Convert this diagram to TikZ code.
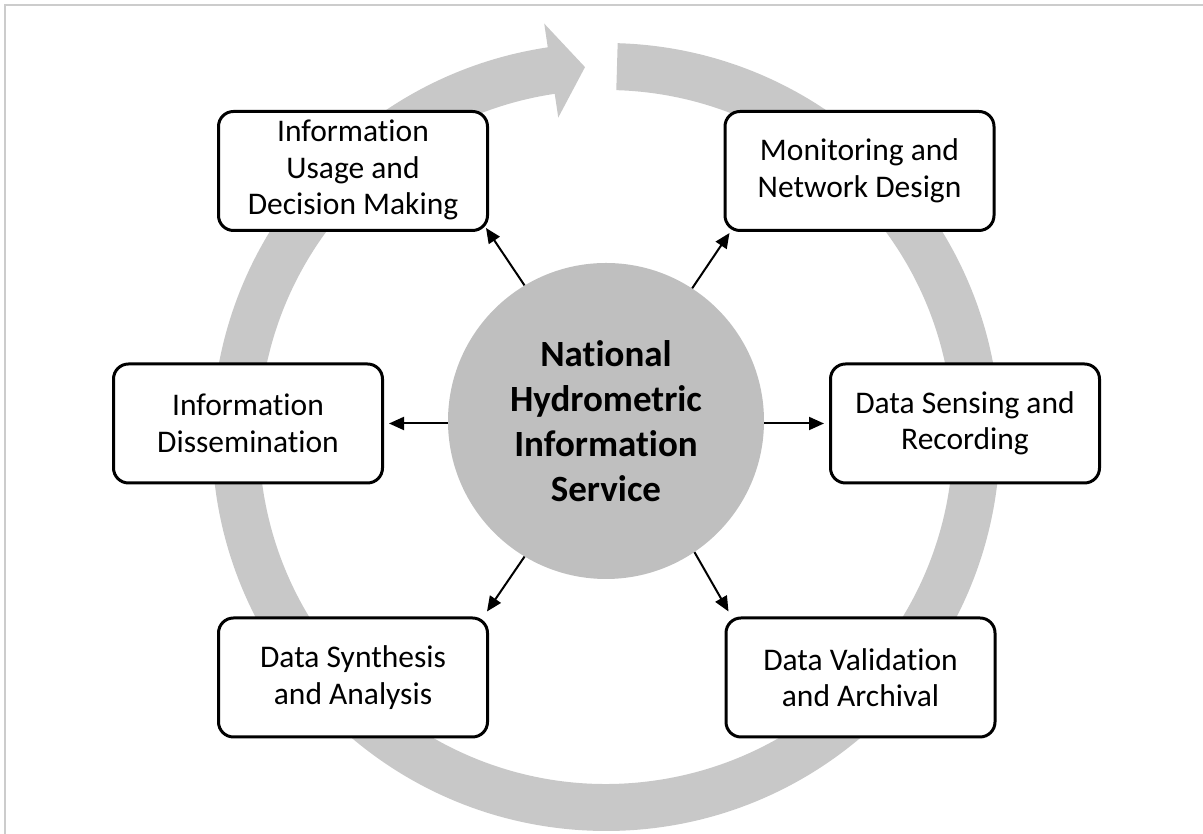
\documentclass[tikz,border=0pt]{standalone}
\usepackage{fontspec}
\setmainfont{Carlito}[Ligatures={NoCommon}, RawFeature={-liga;-clig;-dlig}]
\usetikzlibrary{arrows.meta,calc}
\definecolor{ringgray}{RGB}{200,200,200}
\definecolor{hubgray}{RGB}{191,191,191}
\definecolor{framegray}{RGB}{204,204,204}
\begin{document}
\begin{tikzpicture}[x=1pt,y=1pt,
  stage/.style={draw=black, line width=3pt, rounded corners=15pt, fill=white,
    minimum width=269pt, minimum height=119pt, inner sep=0pt, align=center,
    font=\fontsize{31.5}{36.5}\selectfont},
  hub/.style={circle, fill=hubgray, minimum size=316pt, inner sep=0pt, align=center,
    font=\fontsize{37}{45}\selectfont\bfseries},
  arr/.style={line width=2pt, -{Triangle[length=15pt,width=13pt]}}]
\useasboundingbox (0,0) rectangle (1203,834);
\draw[framegray, line width=1.5pt] (5,0) -- (5,829) -- (1203,829);
% cycle ring
\coordinate (rc) at (606,397);
\fill[ringgray] ($(rc)+(88.3:394)$) arc[start angle=88.3, end angle=-261.5, radius=394pt]
  -- ($(rc)+(98.5:418)$) -- ($(rc)+(93.25:370.5)$) -- ($(rc)+(98.5:323)$)
  -- ($(rc)+(98.5:347)$) arc[start angle=-261.5, end angle=88.3, radius=347pt] -- cycle;
% stages
\node[stage] (b1) at (353,663) {\rule{0pt}{0pt}\raisebox{-3pt}{\begin{tabular}{@{}c@{}}Information\\Usage and\\Decision Making\end{tabular}}};
\node[stage] (b2) at (859.5,663) {Monitoring and\\Network Design};
\node[stage] (b3) at (248,410.5) {Information\\Dissemination};
\node[stage] (b4) at (965,410.5) {Data Sensing and\\Recording};
\node[stage] (b5) at (353,156.5) {Data Synthesis\\and Analysis};
\node[stage] (b6) at (860.5,156.5) {Data Validation\\and Archival};
% hub
\node[hub] (c) at (606,413) {National\\Hydrometric\\Information\\Service};
% arrows
\draw[arr] (c.121.4) -- ([xshift=-3pt,yshift=4pt]b1.south east);
\draw[arr] (c.57) -- ([xshift=6pt,yshift=-1pt]b2.south west);
\draw[arr] (c.west |- b3.east) -- ([xshift=5pt]b3.east);
\draw[arr] (c.east |- b4.west) -- ([xshift=-5pt]b4.west);
\draw[arr] (c.-121.8) -- ([xshift=-2pt,yshift=5pt]b5.north east);
\draw[arr] (c.-56.9) -- ([xshift=4pt,yshift=5pt]b6.north west);
\end{tikzpicture}
\end{document}
